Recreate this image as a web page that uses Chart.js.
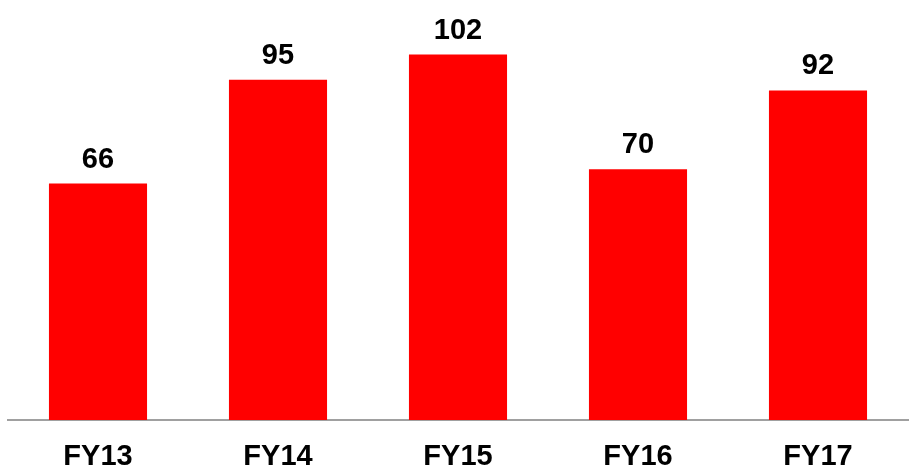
<!DOCTYPE html>
<html>
<head>
<meta charset="utf-8">
<script src="https://cdn.jsdelivr.net/npm/chart.js@4.4.0/dist/chart.umd.min.js"></script>
<style>
  html, body { margin: 0; padding: 0; background: #fff; }
  #wrap { width: 909px; height: 469px; }
</style>
</head>
<body>
<div id="wrap"><canvas id="myChart"></canvas></div>
<script>
const categories = ['FY13', 'FY14', 'FY15', 'FY16', 'FY17'];
const values = [66, 95, 102, 70, 92];

const FONT = 'bold 29px "Liberation Sans", Arial, sans-serif';

// etiquettes au-dessus des barres + libelles des categories
const valueLabels = {
    id: 'valueLabels',
    afterDatasetsDraw(chart) {
        const ctx = chart.ctx;
        const meta = chart.getDatasetMeta(0);
        const xScale = chart.scales.x;
        ctx.save();
        ctx.font = FONT;
        ctx.fillStyle = '#000';
        ctx.textAlign = 'center';
        ctx.textBaseline = 'alphabetic';
        meta.data.forEach((bar, i) => {
            ctx.fillText(values[i], bar.x, bar.y - 16);
        });
        categories.forEach((c, i) => {
            ctx.fillText(c, xScale.getPixelForTick(i), chart.chartArea.bottom + 45);
        });
        ctx.restore();
    }
};

const ctx = document.getElementById('myChart').getContext('2d');
const myChart = new Chart(ctx, {
    type: 'bar',
    data: {
        labels: categories,
        datasets: [{
            data: values,
            backgroundColor: '#ff0000',
            borderWidth: 0,
            categoryPercentage: 1,
            barPercentage: 0.545
        }]
    },
    options: {
        responsive: true,
        maintainAspectRatio: false,
        animation: false,
        layout: { padding: { top: 8, left: 8, right: 1, bottom: 49 } },
        plugins: {
            legend: { display: false },
            tooltip: { enabled: false }
        },
        scales: {
            y: { display: false, min: 0, max: 115 },
            x: {
                grid: { display: false, drawTicks: false },
                border: { display: true, color: '#a0a0a0', width: 2 },
                ticks: { display: false }
            }
        }
    },
    plugins: [valueLabels]
});
</script>
</body>
</html>
